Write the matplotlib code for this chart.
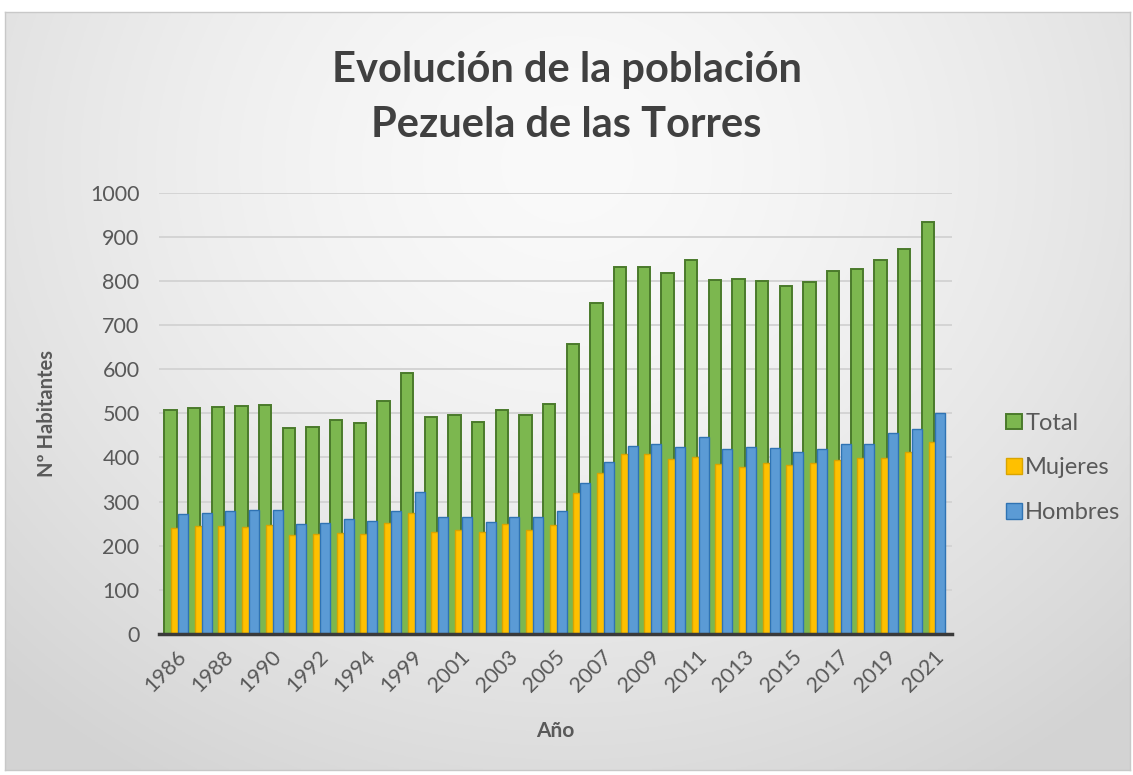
import matplotlib.pyplot as plt
import numpy as np

plt.rcParams['font.family'] = ['Lato', 'DejaVu Sans']

# Padrón municipal: habitantes por año
anios = ['1986', '1987', '1988', '1989', '1990', '1991', '1992', '1993', '1994',
         '1996', '1999', '2000', '2001', '2002', '2003', '2004', '2005', '2006',
         '2007', '2008', '2009', '2010', '2011', '2012', '2013', '2014', '2015',
         '2016', '2017', '2018', '2019', '2020', '2021']
total = [508, 513, 514, 517, 519, 466, 470, 484, 479, 528, 592, 491, 496, 481,
         508, 496, 521, 657, 749, 831, 832, 819, 847, 802, 804, 801, 789, 798,
         823, 826, 847, 872, 933]
mujeres = [241, 245, 245, 243, 246, 224, 226, 228, 226, 252, 275, 232, 236, 232,
           249, 236, 247, 319, 364, 407, 407, 396, 402, 385, 379, 387, 383, 387,
           394, 398, 398, 413, 436]
hombres = [271, 275, 279, 281, 281, 249, 252, 260, 257, 279, 321, 266, 264, 254,
           264, 266, 279, 343, 389, 426, 430, 424, 446, 419, 424, 421, 413, 419,
           430, 430, 455, 464, 500]

W, H = 1133, 775
fig = plt.figure(figsize=(W / 100, H / 100), dpi=100)
fig.patch.set_facecolor('white')

# fondo del área del gráfico con degradado radial
bg = fig.add_axes([5 / W, 5 / H, 1125 / W, 758 / H], zorder=0)
yy, xx = np.mgrid[0:1:300j, 0:1:400j]
d = np.sqrt(((xx - 0.5) / 0.72) ** 2 + ((yy - 0.2) / 0.95) ** 2)
d = np.clip(d, 0, 1) ** 1.5
claro, oscuro = np.array([0.98, 0.98, 0.98]), np.array([0.83, 0.83, 0.83])
img = claro[None, None, :] * (1 - d[..., None]) + oscuro[None, None, :] * d[..., None]
bg.imshow(img, extent=[0, 1, 0, 1], aspect='auto', origin='upper')
bg.set_xticks([])
bg.set_yticks([])
for s in bg.spines.values():
    s.set_color('#c8c8c8')
    s.set_linewidth(1)

ax = fig.add_axes([159 / W, (H - 634) / H, 792.7 / W, 441.3 / H], zorder=1)
ax.set_facecolor('none')

x = np.arange(len(anios))
ax.bar(x - 0.24, total, width=0.52, color='#7cb74f', edgecolor='#4a7a2b',
       linewidth=1.4, label='Total', zorder=2)
ax.bar(x + 0.0, mujeres, width=0.42, color='#ffc000', edgecolor='#d9a400',
       linewidth=1.0, label='Mujeres', zorder=3)
ax.bar(x + 0.29, hombres, width=0.42, color='#5b9bd5', edgecolor='#2f73b3',
       linewidth=1.0, label='Hombres', zorder=4)

ax.set_xlim(-0.72, 32.77)
ax.set_ylim(0, 1000)
ax.set_yticks(np.arange(0, 1001, 100))
ax.yaxis.grid(True, color='#d4d4d4', linewidth=1.4, zorder=0)
ax.set_axisbelow(True)

ax.set_xticks(x[::2])
ax.set_xticklabels(anios[::2], rotation=45, ha='right', rotation_mode='anchor',
                   fontsize=15.5, color='#595959')
ax.tick_params(axis='x', length=0, pad=9)
ax.tick_params(axis='y', length=0, pad=14, labelsize=15.5, labelcolor='#595959')

for lado in ['top', 'right', 'left']:
    ax.spines[lado].set_visible(False)
ax.spines['bottom'].set_color('#3a3a3a')
ax.spines['bottom'].set_linewidth(2.5)
ax.spines['bottom'].set_zorder(5)

ax.set_xlabel('Año', fontsize=15, fontweight='bold', color='#595959', labelpad=18)
ax.set_ylabel('Nº Habitantes', fontsize=14.5, fontweight='bold', color='#595959',
              labelpad=24)

fig.text(0.5, (H - 70) / H, 'Evolución de la población', ha='center', va='center',
         fontsize=30, fontweight='bold', color='#404040')
fig.text(0.5, (H - 125) / H, 'Pezuela de las Torres', ha='center', va='center',
         fontsize=30, fontweight='bold', color='#404040')

fig.legend(loc='center left', bbox_to_anchor=(985 / W, (H - 468) / H),
           frameon=False, fontsize=17, labelcolor='#595959', handlelength=0.65,
           handleheight=0.65, handletextpad=0.15, labelspacing=1.0)

fig.savefig('out.png', dpi=100, facecolor=fig.get_facecolor())
